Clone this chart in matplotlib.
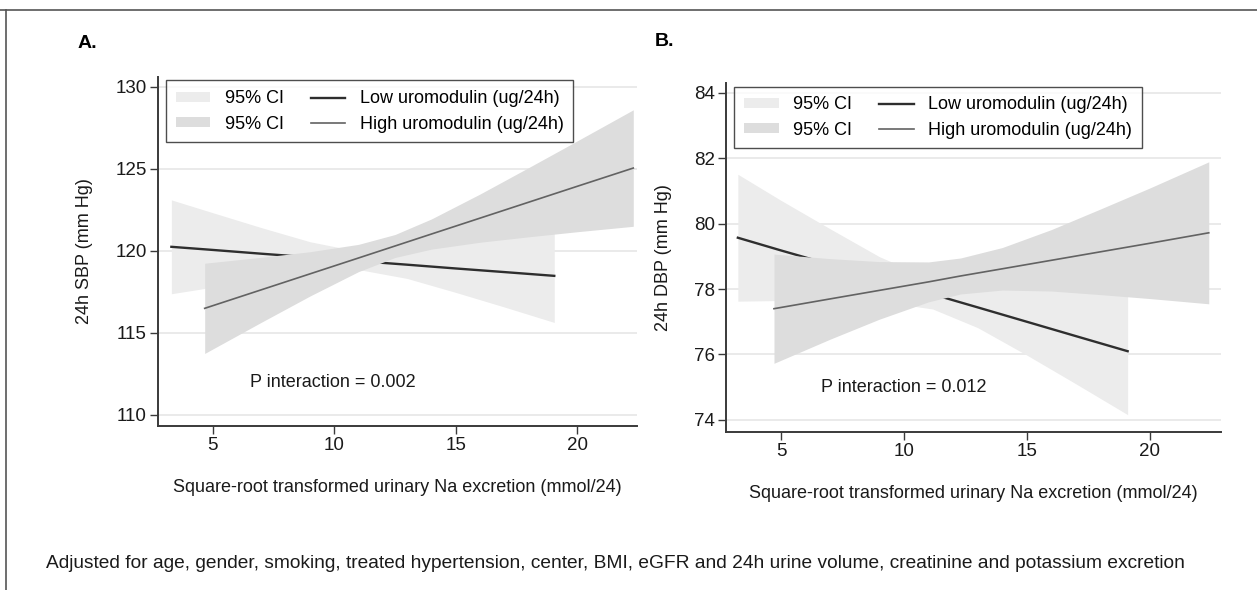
import matplotlib.pyplot as plt
from matplotlib.patches import Patch
from matplotlib.lines import Line2D

plt.rcParams['font.family'] = ['Liberation Sans', 'DejaVu Sans']

# Panel A: 24h SBP
a_low_x = [3.3, 5, 7, 9, 11.2, 13, 15, 17, 19.05]
a_low_fit = [120.25, 120.06, 119.83, 119.61, 119.36, 119.16, 118.93, 118.71, 118.48]
a_low_hi = [123.11, 122.33, 121.42, 120.56, 119.91, 120.00, 120.39, 120.84, 121.32]
a_low_lo = [117.39, 117.79, 118.24, 118.66, 118.81, 118.32, 117.47, 116.58, 115.64]

a_high_x = [4.67, 7, 9, 11, 12.5, 14, 16, 18, 20, 22.3]
a_high_fit = [116.5, 117.63, 118.60, 119.57, 120.30, 121.03, 122.0, 122.97, 123.94, 125.05]
a_high_hi = [119.25, 119.61, 119.95, 120.40, 121.0, 121.95, 123.47, 125.08, 126.71, 128.6]
a_high_lo = [113.75, 115.65, 117.25, 118.74, 119.6, 120.11, 120.53, 120.86, 121.17, 121.5]

# Panel B: 24h DBP
b_low_x = [3.24, 5, 7, 9, 11.17, 13, 15, 17, 19.1]
b_low_fit = [79.57, 79.18, 78.75, 78.31, 77.84, 77.44, 77.0, 76.56, 76.1]
b_low_hi = [81.51, 80.71, 79.84, 78.99, 78.29, 78.06, 78.02, 78.02, 78.04]
b_low_lo = [77.63, 77.65, 77.66, 77.63, 77.39, 76.82, 75.98, 75.10, 74.16]

b_high_x = [4.71, 7, 9, 11, 12.3, 14, 16, 18, 20, 22.4]
b_high_fit = [77.40, 77.70, 77.96, 78.22, 78.40, 78.62, 78.88, 79.14, 79.40, 79.72]
b_high_hi = [79.07, 78.93, 78.84, 78.83, 78.95, 79.27, 79.82, 80.45, 81.09, 81.89]
b_high_lo = [75.73, 76.47, 77.08, 77.61, 77.85, 77.97, 77.94, 77.83, 77.71, 77.55]

x_ticks = [5, 10, 15, 20]
a_yticks = [110, 115, 120, 125, 130]
b_yticks = [74, 76, 78, 80, 82, 84]

xlabel = 'Square-root transformed urinary Na excretion (mmol/24)'
caption = ('Adjusted for age, gender, smoking, treated hypertension, center, BMI, '
           'eGFR and 24h urine volume, creatinine and potassium excretion')

c_low_ci = '#ececec'
c_high_ci = '#dddddd'
c_low = '#2e2e2e'
c_high = '#626262'
c_axis = '#3a3a3a'
c_text = '#1a1a1a'

fig = plt.figure(figsize=(12.57, 5.90), dpi=100)


def panel(ax, low, high, yticks, ylim, xlim, ylabel, ptext, ppos):
    lx, lfit, lhi, llo = low
    hx, hfit, hhi, hlo = high
    for y in yticks:
        ax.axhline(y, color='#e6e6e6', lw=1.2, zorder=0)
    ax.fill_between(lx, llo, lhi, color=c_low_ci, lw=0, zorder=1)
    ax.plot(lx, lfit, color=c_low, lw=1.7, zorder=2)
    ax.fill_between(hx, hlo, hhi, color=c_high_ci, lw=0, zorder=3)
    ax.plot(hx, hfit, color=c_high, lw=1.2, zorder=4)

    ax.set_xlim(*xlim)
    ax.set_ylim(*ylim)
    ax.set_xticks(x_ticks)
    ax.set_yticks(yticks)
    for s in ['top', 'right']:
        ax.spines[s].set_visible(False)
    for s in ['left', 'bottom']:
        ax.spines[s].set_color(c_axis)
        ax.spines[s].set_linewidth(1.4)
    ax.tick_params(direction='out', length=6, width=1, color=c_axis,
                   labelsize=13.5, labelcolor=c_text, pad=2)
    ax.set_xlabel(xlabel, fontsize=13, color=c_text, labelpad=18)
    ax.set_ylabel(ylabel, fontsize=13, color=c_text, labelpad=16)
    ax.text(ppos[0], ppos[1], ptext, fontsize=13, color=c_text,
            va='center', ha='left')

    handles = [Patch(facecolor=c_low_ci, edgecolor='none'),
               Patch(facecolor=c_high_ci, edgecolor='none'),
               Line2D([], [], color=c_low, lw=1.7),
               Line2D([], [], color=c_high, lw=1.2)]
    labels = ['95% CI', '95% CI', 'Low uromodulin (ug/24h)', 'High uromodulin (ug/24h)']
    leg = ax.legend(handles, labels, ncol=2, loc='upper left',
                    bbox_to_anchor=(0.017, 0.99), borderaxespad=0,
                    fontsize=13, frameon=True, fancybox=False,
                    handlelength=1.9, handleheight=0.5, columnspacing=1.5,
                    labelspacing=0.45, borderpad=0.55, handletextpad=0.8)
    leg.get_frame().set_edgecolor('#222222')
    leg.get_frame().set_linewidth(1.0)
    leg.set_zorder(10)


ax_a = fig.add_axes([0.1257, 0.278, 0.381, 0.5915])
panel(ax_a, (a_low_x, a_low_fit, a_low_hi, a_low_lo),
      (a_high_x, a_high_fit, a_high_hi, a_high_lo),
      a_yticks, (109.33, 130.6), (2.75, 22.45), '24h SBP (mm Hg)',
      'P interaction = 0.002', (6.52, 112.0))

ax_b = fig.add_axes([0.5776, 0.2678, 0.3938, 0.5915])
panel(ax_b, (b_low_x, b_low_fit, b_low_hi, b_low_lo),
      (b_high_x, b_high_fit, b_high_hi, b_high_lo),
      b_yticks, (73.63, 84.3), (2.76, 22.9), '24h DBP (mm Hg)',
      'P interaction = 0.012', (6.63, 74.98))

fig.text(78 / 1257, 1 - 43 / 590, 'A.', fontsize=14, fontweight='bold', va='center')
fig.text(655 / 1257, 1 - 42 / 590, 'B.', fontsize=14, fontweight='bold', va='center')
fig.text(46 / 1257, 1 - 564 / 590, caption, fontsize=13.8, color=c_text, va='center')

# outer frame (top and left edges)
fig.add_artist(Line2D([0, 1], [1 - 9.5 / 590, 1 - 9.5 / 590], color='#555555', lw=1.2))
fig.add_artist(Line2D([6 / 1257, 6 / 1257], [0, 1 - 9.5 / 590], color='#555555', lw=1.2))

fig.savefig('out.png', dpi=100)
